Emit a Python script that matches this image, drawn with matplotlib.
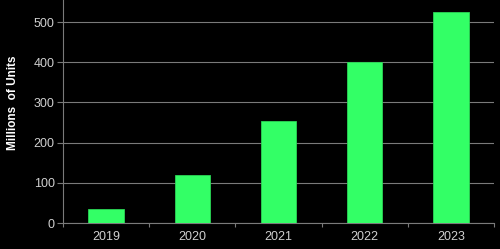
import numpy as np
import matplotlib
matplotlib.use("Agg")
import matplotlib.pyplot as plt
from matplotlib.ticker import FixedLocator

years = ["2019", "2020", "2021", "2022", "2023"]
units = [35, 120, 254, 400, 525]   # millions of units
yticks = [0, 100, 200, 300, 400, 500]

plt.rcParams['font.family'] = ['Liberation Sans', 'DejaVu Sans']
txt = "#d0d0d0"
grid = "#7a7a7a"

fig = plt.figure(figsize=(5.0, 2.49), dpi=100, facecolor="black")
ax = fig.add_axes([0.126, 0.1044, 0.862, 0.8956], facecolor="black")

x = np.arange(len(years))
ax.bar(x, units, width=0.41, color="#33ff66", edgecolor="#2ad455", linewidth=0.6, zorder=3)

ax.set_xlim(-0.5, len(years) - 0.5)
ax.set_ylim(0, 555)
ax.set_yticks(yticks)
ax.set_xticks(x)
ax.set_xticklabels(years)
ax.xaxis.set_minor_locator(FixedLocator(np.arange(-0.5, len(years), 1.0)))
ax.tick_params(axis="x", which="major", length=0, colors=txt, labelsize=9, pad=6)
ax.tick_params(axis="x", which="minor", length=3, color=grid, width=0.8)
ax.tick_params(axis="y", length=4, color=grid, width=0.8, labelcolor=txt, labelsize=9, pad=2)

ax.grid(axis="y", color=grid, linewidth=0.8, zorder=0)
for s in ["top", "right"]:
    ax.spines[s].set_visible(False)
for s in ["left", "bottom"]:
    ax.spines[s].set_color(grid)
    ax.spines[s].set_linewidth(0.8)

ax.set_ylabel("Millions  of Units", color="white", fontsize=8.5, fontweight="bold")
ax.yaxis.set_label_coords(-0.101, 0.54)

fig.savefig("out.png", dpi=100, facecolor="black")
